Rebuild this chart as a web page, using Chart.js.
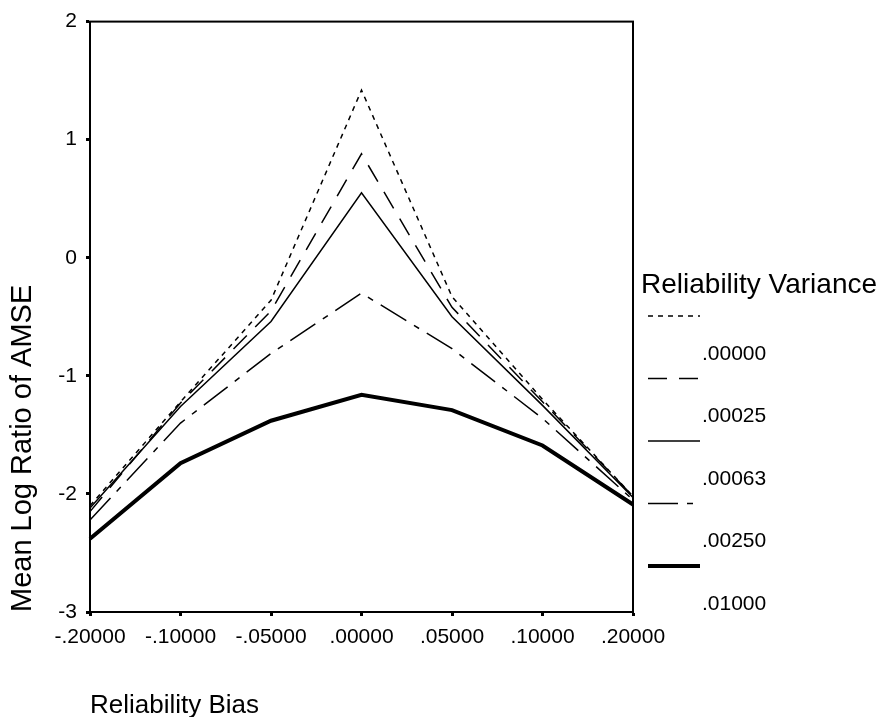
<!DOCTYPE html>
<html lang="en">
<head>
    <meta charset="UTF-8">
    <title>Mean Log Ratio of AMSE</title>
    <style>
        body {
            margin: 0;
            background-color: #ffffff;
        }
        #wrap {
            width: 878px;
            height: 717px;
        }
    </style>
</head>
<body>
    <div id="wrap">
        <canvas id="biasChart" width="878" height="717"></canvas>
    </div>
    <script src="https://cdn.jsdelivr.net/npm/chart.js"></script>
    <script>
        // values
        const biasLabels = ['-.20000', '-.10000', '-.05000', '.00000', '.05000', '.10000', '.20000'];
        const varianceLabels = ['.00000', '.00025', '.00063', '.00250', '.01000'];
        const var00000 = [-2.10, -1.22, -0.36, 1.42, -0.33, -1.20, -2.02];
        const var00025 = [-2.15, -1.23, -0.45, 0.88, -0.42, -1.22, -2.02];
        const var00063 = [-2.12, -1.26, -0.54, 0.55, -0.50, -1.25, -2.03];
        const var00250 = [-2.22, -1.40, -0.81, -0.30, -0.77, -1.36, -2.05];
        const var01000 = [-2.38, -1.74, -1.38, -1.16, -1.29, -1.59, -2.09];
        const yTicks = [-3, -2, -1, 0, 1, 2];

        const font = "'Liberation Sans', Arial, sans-serif";

        function makeSet(label, data, dash, width) {
            return {
                label: label,
                data: data,
                borderColor: '#000000',
                backgroundColor: '#000000',
                borderWidth: width,
                borderDash: dash,
                pointRadius: 0,
                tension: 0,
                fill: false
            };
        }

        // box round the plot plus the legend at the right
        const framePlugin = {
            id: 'frame',
            afterDraw(chart) {
                const ctx = chart.ctx;
                const a = chart.chartArea;
                ctx.save();
                ctx.strokeStyle = '#000000';
                ctx.lineWidth = 2;
                ctx.setLineDash([]);
                ctx.strokeRect(a.left, a.top, a.right - a.left, a.bottom - a.top);

                ctx.fillStyle = '#000000';
                ctx.textBaseline = 'middle';
                ctx.textAlign = 'left';
                ctx.font = '28px ' + font;
                ctx.fillText('Reliability Variance', 641, 285);

                ctx.font = '21px ' + font;
                chart.data.datasets.forEach(function(ds, i) {
                    const y = 316 + i * 62.5;
                    ctx.lineWidth = ds.borderWidth;
                    ctx.setLineDash(ds.borderDash);
                    ctx.beginPath();
                    ctx.moveTo(648, y);
                    ctx.lineTo(700, y);
                    ctx.stroke();
                    ctx.setLineDash([]);
                    ctx.fillText(ds.label, 702, y + 38);
                });
                ctx.restore();
            }
        };

        const ctx = document.getElementById('biasChart').getContext('2d');
        new Chart(ctx, {
            type: 'line',
            data: {
                labels: biasLabels,
                datasets: [
                    makeSet(varianceLabels[0], var00000, [5, 5], 1.5),
                    makeSet(varianceLabels[1], var00025, [19, 12], 1.5),
                    makeSet(varianceLabels[2], var00063, [], 1.5),
                    makeSet(varianceLabels[3], var00250, [30, 9, 6, 9], 1.5),
                    makeSet(varianceLabels[4], var01000, [], 4)
                ]
            },
            options: {
                responsive: false,
                animation: false,
                layout: {
                    padding: { left: 0, right: 245, top: 20, bottom: 0 }
                },
                plugins: {
                    legend: { display: false },
                    tooltip: { enabled: false }
                },
                scales: {
                    x: {
                        type: 'category',
                        offset: false,
                        grid: {
                            drawOnChartArea: false,
                            drawTicks: true,
                            tickLength: 4,
                            tickWidth: 3,
                            tickColor: '#000000'
                        },
                        border: { display: true, color: '#000000', width: 2 },
                        ticks: {
                            color: '#000000',
                            font: { family: font, size: 21 },
                            padding: 9,
                            maxRotation: 0,
                            autoSkip: false
                        },
                        title: {
                            display: true,
                            text: 'Reliability Bias',
                            align: 'start',
                            color: '#000000',
                            font: { family: font, size: 26, lineHeight: 0.85 },
                            padding: { top: 0, bottom: 0 }
                        },
                        afterFit(scale) {
                            scale.height = 105;
                        }
                    },
                    y: {
                        min: -3,
                        max: 2,
                        grid: {
                            drawOnChartArea: false,
                            drawTicks: true,
                            tickLength: 4,
                            tickWidth: 3,
                            tickColor: '#000000'
                        },
                        border: { display: true, color: '#000000', width: 2 },
                        afterBuildTicks(scale) {
                            scale.ticks = yTicks.map(function(v) { return { value: v }; });
                        },
                        ticks: {
                            color: '#000000',
                            font: { family: font, size: 21 },
                            padding: 9
                        },
                        title: {
                            display: true,
                            text: 'Mean Log Ratio of AMSE',
                            align: 'start',
                            color: '#000000',
                            font: { family: font, size: 29, lineHeight: 1 },
                            padding: { top: 8, bottom: 0 }
                        },
                        afterFit(scale) {
                            scale.width = 90;
                        }
                    }
                }
            },
            plugins: [framePlugin]
        });
    </script>
</body>
</html>
